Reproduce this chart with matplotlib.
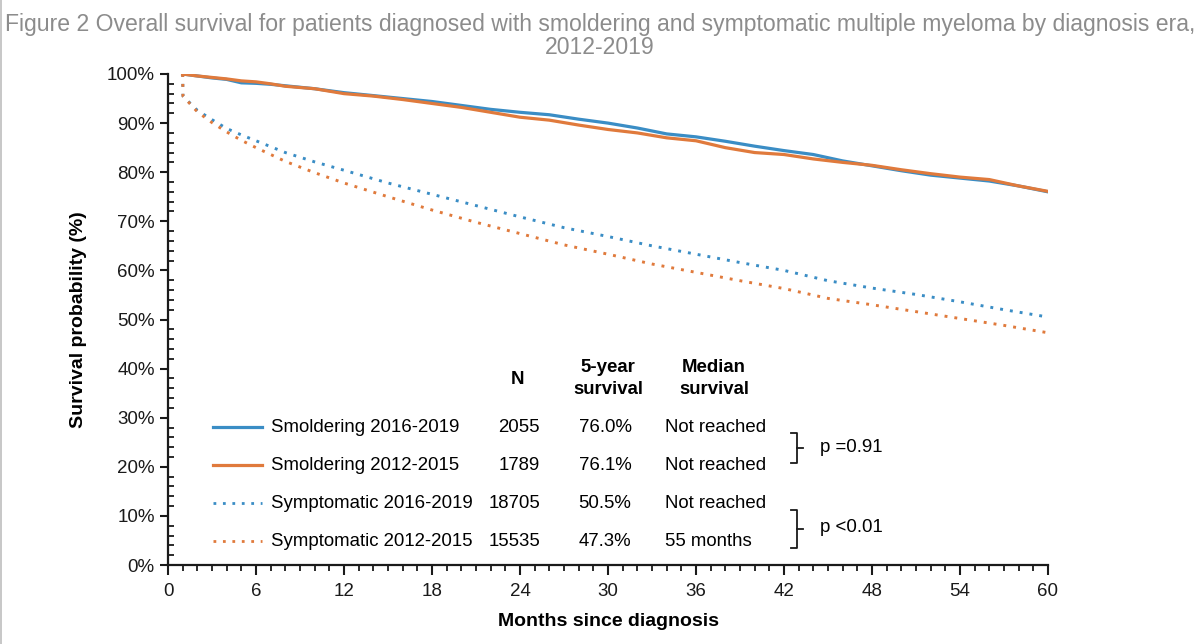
import matplotlib
matplotlib.use("Agg")
import matplotlib.pyplot as plt
from matplotlib.lines import Line2D
from matplotlib.ticker import MultipleLocator, FuncFormatter

plt.rcParams['font.family'] = ['Liberation Sans', 'DejaVu Sans']

# ---------------- data ----------------
months_smol = [1, 2, 3, 4, 5, 6, 7, 8, 10, 12, 14, 16, 18, 20, 22, 24, 26, 28, 30,
               32, 34, 36, 38, 40, 42, 44, 46, 48, 50, 52, 54, 56, 58, 60]
smol_2016 = [100, 99.6, 99.2, 98.9, 98.2, 98.1, 97.9, 97.6, 97.0, 96.2, 95.6, 95.0,
             94.4, 93.6, 92.8, 92.2, 91.7, 90.8, 90.0, 89.0, 87.8, 87.2, 86.3, 85.3,
             84.4, 83.6, 82.3, 81.3, 80.3, 79.4, 78.8, 78.2, 77.2, 76.0]
smol_2012 = [100, 99.6, 99.3, 99.0, 98.6, 98.4, 98.0, 97.5, 97.0, 96.0, 95.5, 94.8,
             94.0, 93.2, 92.2, 91.2, 90.6, 89.6, 88.7, 88.0, 87.0, 86.4, 85.0, 84.0,
             83.6, 82.7, 82.0, 81.4, 80.5, 79.7, 79.0, 78.5, 77.2, 76.1]

months_sym = [1, 1.02, 2, 3, 4, 5, 6, 8, 10, 12, 15, 18, 21, 24, 27, 30, 33, 36, 39,
              42, 45, 48, 51, 54, 57, 60]
sym_2016 = [100, 95.5, 92.6, 90.7, 88.9, 87.6, 86.4, 84.0, 82.1, 80.4, 77.8, 75.5,
            73.2, 70.9, 68.7, 66.9, 65.0, 63.3, 61.6, 60.0, 57.9, 56.4, 55.1, 53.6,
            52.0, 50.5]
sym_2012 = [100, 95.5, 92.3, 90.1, 88.2, 86.5, 85.0, 82.2, 79.9, 77.8, 75.0, 72.3,
            69.8, 67.5, 65.2, 63.3, 61.3, 59.6, 57.9, 56.3, 54.3, 53.0, 51.6, 50.2,
            48.8, 47.3]

labels = ["Smoldering 2016-2019", "Smoldering 2012-2015",
          "Symptomatic 2016-2019", "Symptomatic 2012-2015"]
n_patients = ["2055", "1789", "18705", "15535"]
five_year = ["76.0%", "76.1%", "50.5%", "47.3%"]
median_surv = ["Not reached", "Not reached", "Not reached", "55 months"]
p_values = ["p =0.91", "p <0.01"]

x_ticks = [0, 6, 12, 18, 24, 30, 36, 42, 48, 54, 60]
y_ticks = [0, 10, 20, 30, 40, 50, 60, 70, 80, 90, 100]

title_lines = ["Figure 2 Overall survival for patients diagnosed with smoldering and symptomatic multiple myeloma by diagnosis era,",
               "2012-2019"]

# ---------------- styling ----------------
BLUE = "#3A8DC5"
ORANGE = "#E07A3C"
W, H = 1200, 644

def fx(px):
    return px / W

def fy(py):
    return 1 - py / H

fig = plt.figure(figsize=(12, 6.44), dpi=100)
ax = fig.add_axes([fx(168), fy(565), fx(1048) - fx(168), fy(74) - fy(565)])

dot = (0, (1, 2.4))
ax.plot(months_smol, smol_2016, color=BLUE, lw=2.3, zorder=3)
ax.plot(months_smol, smol_2012, color=ORANGE, lw=2.3, zorder=4)
ax.plot(months_sym, sym_2016, color=BLUE, lw=2.1, linestyle=dot, zorder=3)
ax.plot(months_sym, sym_2012, color=ORANGE, lw=2.1, linestyle=dot, zorder=3)

ax.set_xlim(0, 60)
ax.set_ylim(0, 100)
ax.set_xticks(x_ticks)
ax.set_yticks(y_ticks)
ax.xaxis.set_minor_locator(MultipleLocator(1))
ax.yaxis.set_minor_locator(MultipleLocator(2))
ax.yaxis.set_major_formatter(FuncFormatter(lambda v, p: f"{int(v)}%"))

for s in ["top", "right"]:
    ax.spines[s].set_visible(False)
for s in ["left", "bottom"]:
    ax.spines[s].set_linewidth(1.6)
    ax.spines[s].set_color("#1a1a1a")

ax.tick_params(axis="both", which="major", labelsize=13.5, colors="#1a1a1a",
               width=1.5, length=6, direction="out")
ax.tick_params(axis="x", which="major", length=7, pad=6)
ax.tick_params(axis="x", which="minor", direction="out", length=4, width=1.3, colors="#1a1a1a")
ax.tick_params(axis="y", which="minor", direction="in", length=4, width=1.3, colors="#1a1a1a")

ax.set_xlabel("Months since diagnosis", fontsize=14, fontweight="bold", labelpad=9)
ax.set_ylabel("Survival probability (%)", fontsize=14, fontweight="bold", labelpad=14)

# title
fig.text(0.5, fy(24), title_lines[0], ha="center", va="center", fontsize=16.6, color="#8c8c8c")
fig.text(0.5, fy(47), title_lines[1], ha="center", va="center", fontsize=16.6, color="#8c8c8c")

# thin gray border at the left edge
fig.add_artist(Line2D([0.001, 0.001], [0, 1], transform=fig.transFigure, color="#bdbdbd", lw=1.2))

# ---------------- table legend ----------------
fs = 13.4
rows_y = [427, 465, 503, 541]
colors = [BLUE, ORANGE, BLUE, ORANGE]
styles = ["-", "-", dot, dot]
lws = [2.3, 2.3, 2.0, 2.0]

fig.text(fx(518), fy(380), "N", ha="center", va="center", fontsize=fs, fontweight="bold")
fig.text(fx(608), fy(368), "5-year", ha="center", va="center", fontsize=fs, fontweight="bold")
fig.text(fx(608), fy(389), "survival", ha="center", va="center", fontsize=fs, fontweight="bold")
fig.text(fx(714), fy(368), "Median", ha="center", va="center", fontsize=fs, fontweight="bold")
fig.text(fx(714), fy(389), "survival", ha="center", va="center", fontsize=fs, fontweight="bold")

for i, yy in enumerate(rows_y):
    fig.add_artist(Line2D([fx(213), fx(262)], [fy(yy), fy(yy)], transform=fig.transFigure,
                          color=colors[i], lw=lws[i], linestyle=styles[i]))
    fig.text(fx(271), fy(yy), labels[i], ha="left", va="center", fontsize=fs)
    fig.text(fx(540), fy(yy), n_patients[i], ha="right", va="center", fontsize=fs)
    fig.text(fx(605), fy(yy), five_year[i], ha="center", va="center", fontsize=fs)
    fig.text(fx(665), fy(yy), median_surv[i], ha="left", va="center", fontsize=fs)

def bracket(y_top, y_bot):
    xr = fx(797)
    xl = fx(791)
    xm = fx(803)
    ym = (y_top + y_bot) / 2
    kw = dict(transform=fig.transFigure, color="#1a1a1a", lw=1.3)
    fig.add_artist(Line2D([xl, xr, xr, xl], [fy(y_top), fy(y_top), fy(y_bot), fy(y_bot)], **kw))
    fig.add_artist(Line2D([xr, xm], [fy(ym), fy(ym)], **kw))

bracket(433, 463)
bracket(510, 548)
fig.text(fx(820), fy(447), p_values[0], ha="left", va="center", fontsize=fs)
fig.text(fx(820), fy(527), p_values[1], ha="left", va="center", fontsize=fs)

fig.savefig("out.png", dpi=100)
